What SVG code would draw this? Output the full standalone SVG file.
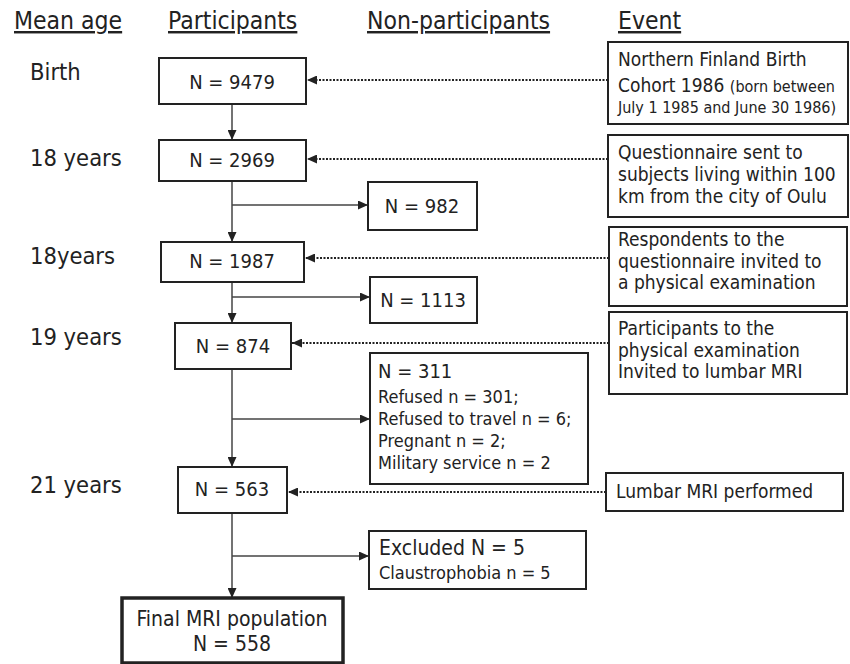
<svg xmlns="http://www.w3.org/2000/svg" width="850" height="664" viewBox="0 0 850 664">
<style>
text{font-family:"DejaVu Sans Condensed","DejaVu Sans",sans-serif;fill:#222}
.hd{font-size:24.5px;text-decoration:underline}
.age{font-size:23.5px}
.n{font-size:20px;text-anchor:middle}
.ev{font-size:19px}
.sm{font-size:16px}
.det{font-size:18px}
.box{fill:#fff;stroke:#222;stroke-width:2}
.fin{fill:#fff;stroke:#222;stroke-width:3.5}
.sol{stroke:#444;stroke-width:1.5;fill:none;marker-end:url(#ah)}
.dot{stroke:#222;stroke-width:2;stroke-dasharray:2,1.5;fill:none;marker-end:url(#ah)}
</style>
<defs>
<marker id="ah" markerUnits="userSpaceOnUse" markerWidth="10" markerHeight="9" refX="10" refY="4.5" orient="auto">
<path d="M0,0 L10,4.5 L0,9 z" fill="#222" stroke="none"/>
</marker>
</defs>
<g id="headers">
<text class="hd" x="14" y="29">Mean age</text>
<text class="hd" x="168" y="29">Participants</text>
<text class="hd" x="367" y="29">Non-participants</text>
<text class="hd" x="618" y="29">Event</text>
</g>
<g id="ages">
<text class="age" x="30" y="80">Birth</text>
<text class="age" x="30" y="166">18 years</text>
<text class="age" x="30" y="264">18years</text>
<text class="age" x="30" y="345">19 years</text>
<text class="age" x="30" y="493">21 years</text>
</g>
<g id="connectors">
<line class="sol" x1="232" y1="104" x2="232" y2="140"/>
<line class="sol" x1="232" y1="181" x2="232" y2="242"/>
<line class="sol" x1="232" y1="282" x2="232" y2="323"/>
<line class="sol" x1="232" y1="369" x2="232" y2="467"/>
<line class="sol" x1="232" y1="513" x2="232" y2="598"/>
<line class="sol" x1="232" y1="205" x2="368" y2="205"/>
<line class="sol" x1="232" y1="297" x2="370" y2="297"/>
<line class="sol" x1="232" y1="419" x2="370" y2="419"/>
<line class="sol" x1="232" y1="556" x2="369" y2="556"/>
<line class="dot" x1="608" y1="80" x2="307" y2="80"/>
<line class="dot" x1="608" y1="159" x2="307" y2="159"/>
<line class="dot" x1="609" y1="258" x2="305" y2="258"/>
<line class="dot" x1="609" y1="343" x2="292" y2="343"/>
<line class="dot" x1="606" y1="492" x2="288" y2="492"/>
</g>
<g id="p9479">
<rect class="box" x="159" y="58" width="147" height="46"/>
<text class="n" x="232" y="89">N = 9479</text>
</g>
<g id="p2969">
<rect class="box" x="159" y="140" width="147" height="41"/>
<text class="n" x="232" y="167">N = 2969</text>
</g>
<g id="np982">
<rect class="box" x="368" y="182" width="109" height="48"/>
<text class="n" x="422" y="213">N = 982</text>
</g>
<g id="p1987">
<rect class="box" x="161" y="242" width="143" height="40"/>
<text class="n" x="232" y="268">N = 1987</text>
</g>
<g id="np1113">
<rect class="box" x="370" y="277" width="107" height="46"/>
<text class="n" x="423" y="307">N = 1113</text>
</g>
<g id="p874">
<rect class="box" x="175" y="323" width="116" height="46"/>
<text class="n" x="233" y="353">N = 874</text>
</g>
<g id="np311">
<rect class="box" x="370" y="353" width="218" height="131"/>
<text class="n" x="378" y="378" style="text-anchor:start">N = 311</text>
<text class="det" x="378" y="403">Refused n = 301;</text>
<text class="det" x="378" y="425">Refused to travel n = 6;</text>
<text class="det" x="378" y="447">Pregnant n = 2;</text>
<text class="det" x="378" y="469">Military service n = 2</text>
</g>
<g id="p563">
<rect class="box" x="178" y="467" width="109" height="46"/>
<text class="n" x="232" y="496">N = 563</text>
</g>
<g id="np5">
<rect class="box" x="369" y="531" width="217" height="58"/>
<text x="379" y="555" style="font-size:21px">Excluded N = 5</text>
<text class="det" x="379" y="579">Claustrophobia n = 5</text>
</g>
<g id="final">
<rect class="fin" x="122" y="598" width="221" height="65"/>
<text x="232" y="626" style="font-size:21px;text-anchor:middle">Final MRI population</text>
<text x="232" y="651" style="font-size:21px;text-anchor:middle">N = 558</text>
</g>
<g id="e1">
<rect class="box" x="608" y="42" width="240" height="82"/>
<text class="ev" x="618" y="66">Northern Finland Birth</text>
<text class="ev" x="618" y="92">Cohort 1986 <tspan class="sm">(born between</tspan></text>
<text class="sm" x="618" y="113">July 1 1985 and June 30 1986)</text>
</g>
<g id="e2">
<rect class="box" x="608" y="135" width="240" height="82"/>
<text class="ev" x="618" y="159">Questionnaire sent to</text>
<text class="ev" x="618" y="181">subjects living within 100</text>
<text class="ev" x="618" y="203">km from the city of Oulu</text>
</g>
<g id="e3">
<rect class="box" x="609" y="227" width="238" height="79"/>
<text class="ev" x="618" y="246">Respondents to the</text>
<text class="ev" x="618" y="268">questionnaire invited to</text>
<text class="ev" x="618" y="289">a physical examination</text>
</g>
<g id="e4">
<rect class="box" x="609" y="312" width="238" height="82"/>
<text class="ev" x="618" y="335">Participants to the</text>
<text class="ev" x="618" y="357">physical examination</text>
<text class="ev" x="618" y="378">Invited to lumbar MRI</text>
</g>
<g id="e5">
<rect class="box" x="606" y="473" width="237" height="38"/>
<text class="ev" x="616" y="498">Lumbar MRI performed</text>
</g>
</svg>
